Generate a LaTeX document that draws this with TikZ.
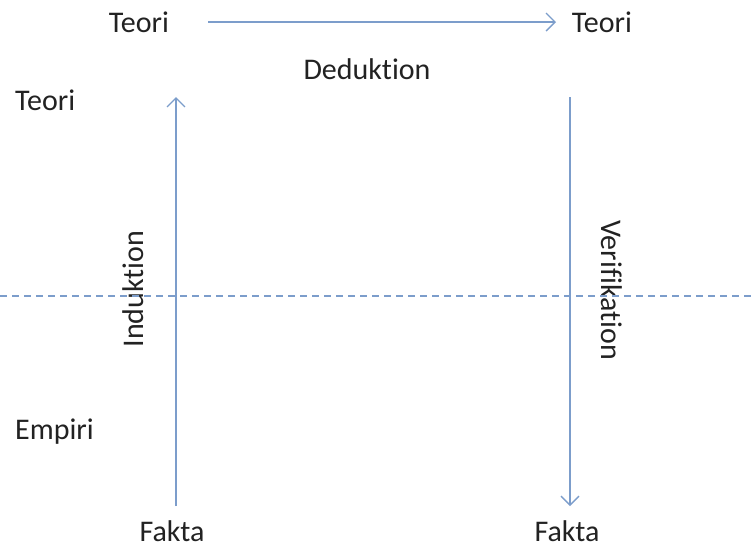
\documentclass[tikz,border=0pt]{standalone}
\usepackage{fontspec}
\setmainfont[Ligatures={NoCommon,NoRare,NoContextual}]{Carlito}
\usetikzlibrary{arrows.meta}
\definecolor{linkblue}{HTML}{7C9DCB}
\definecolor{labelgray}{HTML}{222222}
\begin{document}
\begin{tikzpicture}[x=1pt,y=-1pt,
  lbl/.style={font=\fontsize{30}{34}\selectfont, text=labelgray, inner sep=0pt},
  flow/.style={draw=linkblue, line width=1.6pt, -{Straight Barb[length=9pt,width=18pt,line width=1.4pt]}},
  split/.style={draw=linkblue, line width=1.2pt, dash pattern=on 7pt off 5pt}]
  \useasboundingbox (0,0) rectangle (753,550);
  % labels
  \node[lbl] (t1) at (139,22) {Teori};
  \node[lbl] (t2) at (602,22) {Teori};
  \node[lbl] (ded) at (367,69) {Deduktion};
  \node[lbl, anchor=west] (teori) at (15,100) {Teori};
  \node[lbl, anchor=west] (emp) at (15,432) {Empiri};
  \node[lbl, anchor=base] (f1) at (172,541) {Fakta};
  \node[lbl, anchor=base] (f2) at (567,541) {Fakta};
  \node[lbl, rotate=90] (ind) at (133,289) {Induktion};
  \node[lbl, rotate=-90] (ver) at (612,290) {Verifikation};
  % reference points of the arrows
  \coordinate (a1s) at (208,22);
  \coordinate (a1e) at (556,22);
  \coordinate (a2s) at (176,506);
  \coordinate (a2e) at (176,97);
  \coordinate (a3s) at (570,97);
  \coordinate (a3e) at (570,506);
  \coordinate (d1) at (0,296);
  \coordinate (d2) at (753,296);
  % boundary between theory and empirics
  \draw[split] (d1) -- (d2);
  % arrows
  \draw[flow] (a1s) -- (a1e);
  \draw[flow] (a2s) -- (a2e);
  \draw[flow] (a3s) -- (a3e);
\end{tikzpicture}
\end{document}
